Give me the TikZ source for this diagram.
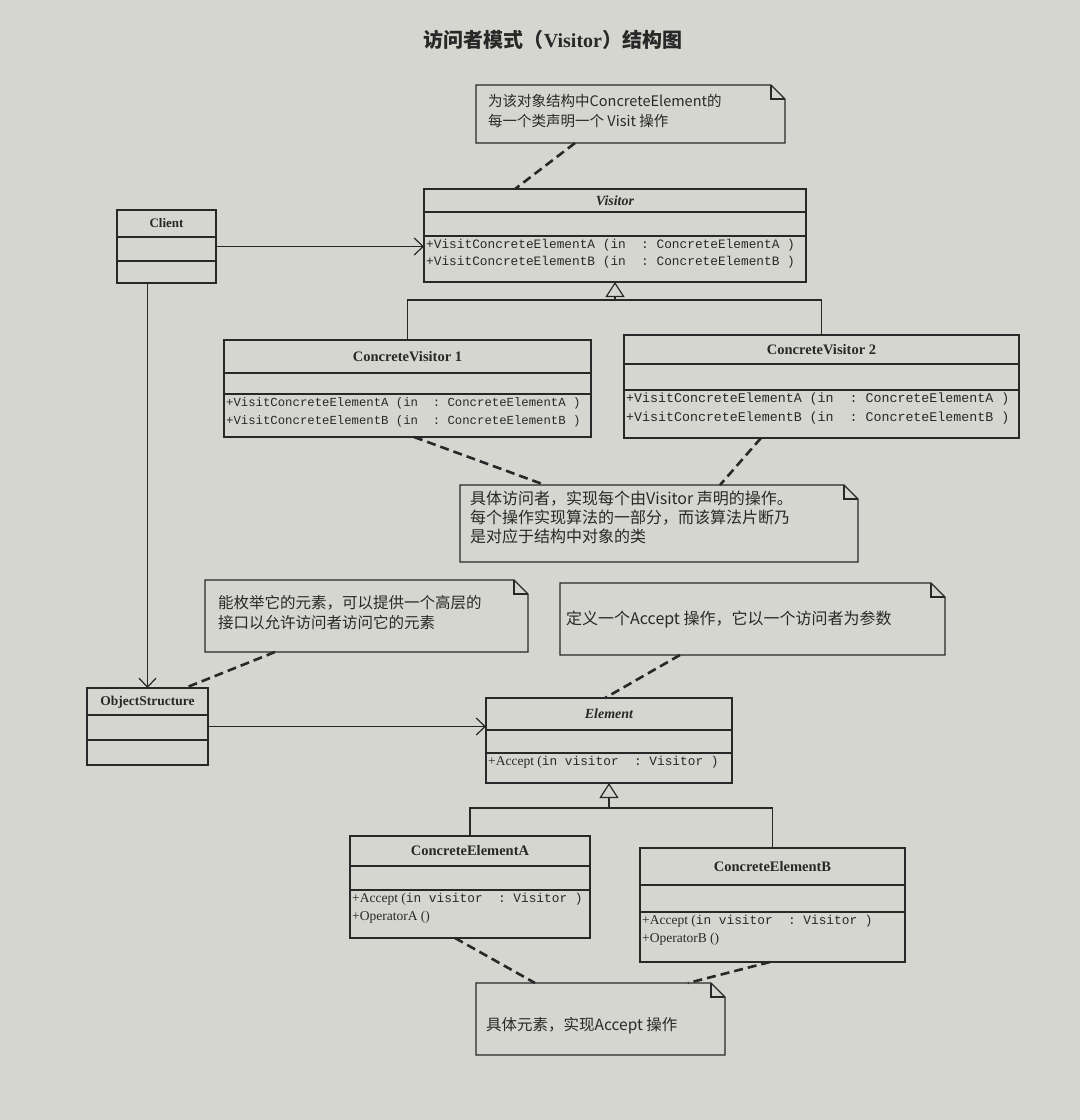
\documentclass[tikz,border=0pt]{standalone}
\usepackage{fontspec}
\setmainfont{Liberation Serif}
\setmonofont{Liberation Mono}
\newfontfamily\cjk{Noto Sans CJK SC}
\usetikzlibrary{arrows.meta,calc}
\definecolor{paper}{RGB}{214,214,209}
\definecolor{ink}{RGB}{40,40,40}

\newcommand{\umlbox}[7]{%
  \node[classbox, minimum width=#4, minimum height=#5] (#1) at (#2,#3) {};
  \draw[sepline] ([yshift=-#6pt]#1.north west) -- ([yshift=-#6pt]#1.north east);
  \draw[sepline] ([yshift=-#7pt]#1.north west) -- ([yshift=-#7pt]#1.north east);
}
\newcommand{\umlnote}[5]{%
  \node[notebox, minimum width=#4, minimum height=#5] (#1) at (#2,#3) {};
  \draw[sepline] (#1.north west) -- ([xshift=-14pt]#1.north east) -- ([yshift=-14pt]#1.north east) -- (#1.south east) -- (#1.south west) -- cycle;
  \draw[sepline] ([xshift=-14pt]#1.north east) |- ([yshift=-14pt]#1.north east);
}

\begin{document}
\begin{tikzpicture}[x=1pt,y=-1pt,
  classbox/.style={draw=ink, line width=1.3pt, anchor=north west, inner sep=0pt, outer sep=0pt},
  notebox/.style={anchor=north west, inner sep=0pt, outer sep=0pt},
  sepline/.style={draw=ink, line width=1.2pt},
  hdr/.style={text=ink, font=\bfseries\fontsize{14.5}{17}\selectfont, inner sep=0pt},
  hdri/.style={text=ink, font=\bfseries\itshape\fontsize{14}{17}\selectfont, inner sep=0pt},
  meth/.style={text=ink, anchor=north west, align=left, inner sep=1pt, font=\ttfamily\fontsize{12.8}{17.5}\selectfont},
  notetext/.style={text=ink, anchor=north west, align=left, inner sep=0pt, font=\cjk\fontsize{15.5}{20}\selectfont},
  assoc/.style={draw=ink, line width=1.2pt, -{Straight Barb[length=9pt,width=17pt,line width=1.2pt]}},
  gen/.style={draw=ink, line width=1.2pt, -{Triangle[open,length=15pt,width=19pt,line width=1.2pt]}},
  conn/.style={draw=ink, line width=2.6pt, dash pattern=on 9pt off 5pt},
]
\fill[paper] (0,0) rectangle (1080,1120);
\useasboundingbox (0,0) rectangle (1080,1120);

% title
\node[text=ink, font=\cjk\bfseries\fontsize{20}{24}\selectfont] (title) at (553,40) {访问者模式（{\rmfamily\bfseries Visitor}）结构图};

% classes
\umlbox{visitor}{424}{189}{382}{93}{23}{47}
\node[hdri] at (visitor.north |- 0,200.5) {Visitor};
\node[meth] at ([xshift=1pt,yshift=-49pt]visitor.north west) {+VisitConcreteElementA (in\ \ : ConcreteElementA )\\+VisitConcreteElementB (in\ \ : ConcreteElementB )};

\umlbox{client}{117}{210}{99}{73}{27}{51}
\node[hdr, font=\bfseries\fontsize{13}{15}\selectfont] at (client.north |- 0,223.5) {Client};

\umlbox{cv1}{224}{340}{367}{97}{33}{54}
\node[hdr] at (cv1.north |- 0,356.5) {ConcreteVisitor 1};
\node[meth, font=\ttfamily\fontsize{12.3}{18}\selectfont] at ([xshift=1pt,yshift=-56pt]cv1.north west) {+VisitConcreteElementA (in\ \ : ConcreteElementA )\\+VisitConcreteElementB (in\ \ : ConcreteElementB )};

\umlbox{cv2}{624}{335}{395}{103}{29}{55}
\node[hdr] at (cv2.north |- 0,349.5) {ConcreteVisitor 2};
\node[meth, font=\ttfamily\fontsize{13.3}{18.5}\selectfont] at ([xshift=1pt,yshift=-57pt]cv2.north west) {+VisitConcreteElementA (in\ \ : ConcreteElementA )\\+VisitConcreteElementB (in\ \ : ConcreteElementB )};

\umlbox{os}{87}{688}{121}{77}{27}{52}
\node[hdr, font=\bfseries\fontsize{13.5}{16}\selectfont] at (os.north |- 0,702.5) {ObjectStructure};

\umlbox{element}{486}{698}{246}{85}{32}{55}
\node[hdri] at (element.north |- 0,714) {Element};
\node[meth] at ([xshift=1pt,yshift=-57pt]element.north west) {{\rmfamily\fontsize{13.5}{17.5}\selectfont +Accept (}in visitor\ \ : Visitor )};

\umlbox{cea}{350}{836}{240}{102}{30}{54}
\node[hdr] at (cea.north |- 0,851) {ConcreteElementA};
\node[meth] at ([xshift=1pt,yshift=-56pt]cea.north west) {{\rmfamily\fontsize{13.5}{17.5}\selectfont +Accept (}in visitor\ \ : Visitor )\\{\rmfamily\fontsize{13.5}{17.5}\selectfont +OperatorA ()}};

\umlbox{ceb}{640}{848}{265}{114}{37}{64}
\node[hdr] at (ceb.north |- 0,866.5) {ConcreteElementB};
\node[meth] at ([xshift=1pt,yshift=-66pt]ceb.north west) {{\rmfamily\fontsize{13.5}{17.5}\selectfont +Accept (}in visitor\ \ : Visitor )\\{\rmfamily\fontsize{13.5}{17.5}\selectfont +OperatorB ()}};

% notes
\umlnote{n1}{476}{85}{309}{58}
\node[notetext, font=\cjk\fontsize{14.5}{20}\selectfont] at ([xshift=12pt,yshift=-9pt]n1.north west) {为该对象结构中ConcreteElement的\\每一个类声明一个 Visit 操作};

\umlnote{n2}{460}{485}{398}{77}
\node[notetext, font=\cjk\fontsize{16}{19}\selectfont] at ([xshift=10pt,yshift=-6pt]n2.north west) {具体访问者，实现每个由Visitor 声明的操作。\\每个操作实现算法的一部分，而该算法片断乃\\是对应于结构中对象的类};

\umlnote{n3}{205}{580}{323}{72}
\node[notetext] at ([xshift=13pt,yshift=-15pt]n3.north west) {能枚举它的元素，可以提供一个高层的\\接口以允许访问者访问它的元素};

\umlnote{n4}{560}{583}{385}{72}
\node[notetext, font=\cjk\fontsize{16}{20}\selectfont] at ([xshift=6pt,yshift=-28pt]n4.north west) {定义一个Accept 操作，它以一个访问者为参数};

\umlnote{n5}{476}{983}{249}{72}
\node[notetext] at ([xshift=10pt,yshift=-34pt]n5.north west) {具体元素，实现Accept 操作};

% associations
\draw[assoc] (client.east) -- (client.east -| visitor.west);
\draw[assoc] (client.south -| os.north) -- (os.north);
\draw[assoc] (os.east) -- (os.east -| element.west);

% generalizations
\coordinate (vj) at (visitor.south |- 0,300);
\draw[gen] (vj) -- (visitor.south);
\draw[sepline] (cv1.north) |- (vj) -| (cv2.north);
\coordinate (ej) at (element.south |- 0,808);
\draw[gen] (ej) -- (element.south);
\draw[sepline] (cea.north) |- (ej) -| (ceb.north);

% note connectors
\draw[conn] ($(n1.south west)+(99,0)$) -- ($(visitor.north west)+(91,0)$);
\draw[conn] ($(cv1.south west)+(190,0)$) -- ($(n2.north west)+(85,0)$);
\draw[conn] ($(cv2.south west)+(137,0)$) -- ($(n2.north west)+(260,0)$);
\draw[conn] ($(n3.south west)+(70,0)$) -- ($(os.north west)+(98,0)$);
\draw[conn] ($(n4.south west)+(120,0)$) -- ($(element.north west)+(119,0)$);
\draw[conn] ($(cea.south west)+(105,0)$) -- ($(n5.north west)+(59,0)$);
\draw[conn] ($(ceb.south west)+(130,0)$) -- ($(n5.north west)+(212,0)$);
\end{tikzpicture}
\end{document}
